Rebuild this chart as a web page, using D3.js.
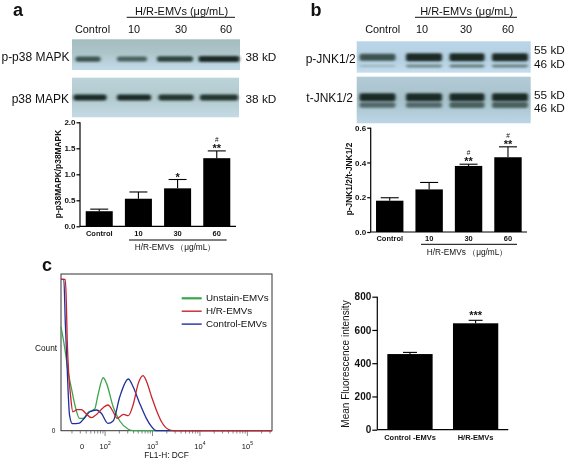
<!DOCTYPE html>
<html><head><meta charset="utf-8">
<script src="https://cdn.jsdelivr.net/npm/d3@7/dist/d3.min.js"></script>
<style>
html,body{margin:0;padding:0;background:#fff}
svg{display:block;filter:blur(.35px)}
text{font-family:"Liberation Sans",Arial,sans-serif;fill:#111}
</style></head><body><svg id="c" width="567" height="460"></svg>
<script>
// ---- data ----
const doseCats = ["Control","10","30","60"];
const p38Values = [0.29,0.53,0.73,1.31];
const p38ErrTops = [0.33,0.66,0.90,1.45];
const p38Ticks = [0,0.5,1.0,1.5,2.0];
const p38Marks = ["","","*","**"];
const p38Hash = ["","","","#"];
const jnkValues = [0.18,0.245,0.38,0.43];
const jnkErrTops = [0.197,0.285,0.39,0.49];
const jnkTicks = [0,0.2,0.4,0.6];
const jnkMarks = ["","","**","**"];
const jnkHash = ["","","#","#"];
const mfiCats = ["Control -EMVs","H/R-EMVs"];
const mfiValues = [455,640];
const mfiErrTops = [465,658];
const mfiTicks = [0,200,400,600,800];
const mfiMarks = ["","***"];
const histLogX_red = [1.07,1.16,1.18,1.20,1.23,1.27,1.32,1.41,1.50,1.59,1.71,1.82,1.96,2.06,2.17,2.25,2.32,2.39,2.49,2.59,2.70,2.80,2.87,2.98,3.08,3.19,3.33,3.44,5.52];
const histY_red = [96.6,96.6,84.5,58.9,37.7,22.8,12.1,13.4,13.4,11.1,8.3,10.4,14.7,16.4,12.1,7.9,9.1,10.4,9.6,16.4,30.2,35.1,31.7,21.7,13.2,5.7,0.9,0,0];
const histLogX_blue = [1.07,1.13,1.16,1.20,1.25,1.31,1.46,1.57,1.68,1.82,1.92,2.06,2.17,2.31,2.49,2.59,2.73,2.87,2.98,3.08,5.52];
const histY_blue = [96.6,96.6,69.6,39.8,10,4.5,4.9,8.3,12.1,13.2,11.1,4.7,6.2,21.7,33,28.1,17.4,7.9,2.6,0,0];
const histLogX_green = [1.07,1.15,1.22,1.29,1.38,1.46,1.54,1.64,1.78,1.85,1.96,2.03,2.17,2.31,2.49,2.59,5.52];
const histY_green = [66.4,52.6,37.7,27,14.3,7.9,7.9,11.7,13.8,22.8,33.8,30.2,15.3,6.2,0.9,0,0];
const legendNames = ["Unstain-EMVs","H/R-EMVs","Control-EMVs"];
const legendColors = ["#3aa64a","#c8232c","#1f2f9c"];
const histDecades = [2,3,4,5];
// relative band densities read from the blots
const pp38Bands = [0.75,0.65,0.85,1.0];
const tp38Bands = [1,1,0.95,0.95];
const pJnkUpper = [0.75,1,1,1];
const pJnkLower = [0.1,0.4,0.5,0.45];
const tJnkUpper = [1,1,1,1];
const tJnkLower = [0.6,0.6,0.65,0.65];

const svg = d3.select("#c");
const defs = svg.append("defs");
defs.append("filter").attr("id","bl").attr("x","-20%").attr("y","-100%").attr("width","140%").attr("height","300%")
  .append("feGaussianBlur").attr("stdDeviation","1.5 1");
function grad(id,stops){
  const g=defs.append("linearGradient").attr("id",id).attr("x1",0).attr("y1",0).attr("x2",0).attr("y2",1);
  stops.forEach(s=>g.append("stop").attr("offset",s[0]).attr("stop-color",s[1]));
}
grad("g1",[[0,"#a3bcbf"],[.45,"#adc5c9"],[1,"#c3dceb"]]);
grad("g2",[[0,"#bcd3da"],[.5,"#b2c9cd"],[1,"#c4dbe6"]]);
grad("g3",[[0,"#b9d5e8"],[.6,"#b3cfe0"],[1,"#c4deef"]]);
grad("g4",[[0,"#b2cbd8"],[.5,"#a7c1ca"],[1,"#bcd6e6"]]);

function txt(x,y,s,size,o={}){
  const t=svg.append("text").attr("x",x).attr("y",y).attr("font-size",size)
    .attr("text-anchor",o.a||"middle").attr("dominant-baseline","central").text(s);
  if(o.b) t.attr("font-weight",700);
  return t;
}
function bands(xs,w,y,vals,thick){
  const col=d3.scaleLinear().domain([0,1]).range(["#a9c3c8","#1a2c27"]);
  svg.append("g").attr("filter","url(#bl)").selectAll("rect").data(vals).join("rect")
    .attr("x",(d,i)=>xs[i]-w[i]/2).attr("width",(d,i)=>w[i])
    .attr("y",d=>y-thick*(.5+.5*d)/2).attr("height",d=>thick*(.5+.5*d))
    .attr("rx",2).attr("fill",d=>col(d));
}
function blot(x,y,w,h,g){svg.append("rect").attr("x",x).attr("y",y).attr("width",w).attr("height",h).attr("fill",`url(#${g})`);}

// ---- panel a blots ----
txt(18,9.5,"a",18,{b:1});
txt(181.5,11,"H/R-EMVs (μg/mL)",11);
svg.append("line").attr("x1",126.7).attr("x2",235).attr("y1",17.3).attr("y2",17.3).attr("stroke","#111").attr("stroke-width",1);
[92.5,134,181,226].forEach((x,i)=>txt(x,29,doseCats[i],10.9));
blot(72,39.3,168,30.7,"g1"); blot(72,77.7,167,39.6,"g2");
bands([88,132,175,219],[25,30,36,41],59,pp38Bands,6);
bands([90,134,176,219],[33,34,35,38],97.5,tp38Bands,6);
txt(69.5,57.3,"p-p38 MAPK",12,{a:"end"}); txt(69,99,"p38 MAPK",12,{a:"end"});
txt(245.5,57,"38 kD",11.8,{a:"start"}); txt(245.5,98.5,"38 kD",11.8,{a:"start"});

// ---- panel b blots ----
txt(316,9.5,"b",18,{b:1});
txt(466.7,11,"H/R-EMVs (μg/mL)",11);
svg.append("line").attr("x1",415).attr("x2",517).attr("y1",17.3).attr("y2",17.3).attr("stroke","#111").attr("stroke-width",1);
[382.7,422,466,508].forEach((x,i)=>txt(x,29,doseCats[i],10.9));
blot(356.7,41.3,174,31.4,"g3"); blot(356.7,76.7,174,46.6,"g4");
const jx=[377.5,424,467,510], jw=[36,36,35,36];
bands(jx,jw,66,pJnkLower,4); bands(jx,jw,57.3,pJnkUpper,8);
bands(jx,jw,105,tJnkLower,7); bands(jx,jw,97.3,tJnkUpper,8);
txt(355.7,59,"p-JNK1/2",12,{a:"end"}); txt(353,98,"t-JNK1/2",12,{a:"end"});
[["55 kD",50],["46 kD",64],["55 kD",95],["46 kD",108]].forEach(d=>txt(534,d[1],d[0],11.8,{a:"start"}));

// ---- bar charts ----
function barChart(o){
  const x=d3.scaleBand().domain(o.cats).range([o.x0,o.x1]).paddingInner(o.pi).paddingOuter(o.po);
  const y=d3.scaleLinear().domain(o.dom).range([o.y0,o.y1]);
  const g=svg.append("g");
  const cx=i=>x(o.cats[i])+x.bandwidth()/2;
  g.selectAll(".e").data(o.vals).join("line").attr("x1",(d,i)=>cx(i)).attr("x2",(d,i)=>cx(i))
    .attr("y1",d=>y(d)).attr("y2",(d,i)=>y(o.tops[i])).attr("stroke","#000").attr("stroke-width",1.1);
  g.selectAll(".c").data(o.tops).join("line")
    .attr("x1",(d,i)=>cx(i)-o.cap).attr("x2",(d,i)=>cx(i)+o.cap)
    .attr("y1",d=>y(d)).attr("y2",d=>y(d)).attr("stroke","#000").attr("stroke-width",1.1);
  g.selectAll(".r").data(o.vals).join("rect").attr("x",(d,i)=>x(o.cats[i])).attr("width",x.bandwidth())
    .attr("y",d=>y(d)).attr("height",d=>o.y0-y(d)).attr("fill","#000");
  const ya=g.append("g").attr("transform",`translate(${o.x0},0)`).call(d3.axisLeft(y).tickValues(o.ticks).tickSize(o.tl).tickPadding(1).tickFormat(o.fmt));
  const xa=g.append("g").attr("transform",`translate(0,${o.y0})`).call(d3.axisBottom(x).tickSize(0).tickPadding(o.xpad));
  ya.select(".domain").attr("d",`M0,${o.y0}V${o.y1}`);
  xa.select(".domain").attr("d",`M${o.x0},0H${o.x1}`);
  [[ya,o.yfs],[xa,o.xfs]].forEach(([a,fs])=>{
    a.selectAll("path,line").attr("stroke","#000").attr("stroke-width",1.2);
    a.selectAll("text").attr("font-weight",700).attr("font-size",fs).style("font-family",'"Liberation Sans",Arial,sans-serif').style("fill","#111");
  });
  g.append("text").attr("font-size",o.tfs||8).attr("text-anchor","middle").attr("dominant-baseline","central")
    .attr("font-weight",o.tw||700).attr("transform",`translate(${o.tx},${o.ty}) rotate(-90)`).text(o.title);
  (o.marks||[]).forEach((m,i)=>{ if(!m) return;
    const ty=y(o.tops[i]);
    txt(cx(i),ty-o.mOff,m,o.mfs,{b:1});
    if(o.hash&&o.hash[i]) txt(cx(i),ty-o.mOff-8.5,o.hash[i],6.5);
  });
}
barChart({cats:doseCats,vals:p38Values,tops:p38ErrTops,ticks:p38Ticks,dom:[0,2],x0:80,x1:236,y0:226.3,y1:122.3,pi:.31,po:.146,cap:9,tl:3.5,xpad:4,
  fmt:d3.format(".1f"),yfs:8,xfs:7.5,title:"p-p38MAPK/p38MAPK",tfs:8.4,tx:58,ty:174,marks:p38Marks,hash:p38Hash,mOff:3,mfs:11});
barChart({cats:doseCats,vals:jnkValues,tops:jnkErrTops,ticks:jnkTicks,dom:[0,.6],x0:370.7,x1:527,y0:232,y1:127.7,pi:.305,po:.135,cap:9,tl:3.5,xpad:4,
  fmt:d3.format(".1f"),yfs:8,xfs:7.5,title:"p-JNK1/2/t-JNK1/2",tfs:8.4,tx:349,ty:179,marks:jnkMarks,hash:jnkHash,mOff:3,mfs:11});
barChart({cats:mfiCats,vals:mfiValues,tops:mfiErrTops,ticks:mfiTicks,dom:[0,800],x0:377.3,x1:508.3,y0:429.7,y1:296.7,pi:.31,po:.153,cap:7,tl:5,xpad:5,
  fmt:d3.format("d"),yfs:10,xfs:7.5,title:"Mean Fluorescence intensity",tx:345.5,ty:364,tfs:10,tw:400,marks:mfiMarks,mOff:5,mfs:11});
// captions under dose bars
[[129,226.7,240,175,246.7],[421,517,244.3,467,251.7]].forEach(d=>{
  svg.append("line").attr("x1",d[0]).attr("x2",d[1]).attr("y1",d[2]).attr("y2",d[2]).attr("stroke","#000").attr("stroke-width",1);
  txt(d[3],d[4],"H/R-EMVs （μg/mL）",8.3);
});

// ---- histogram ----
txt(47,265,"c",18,{b:1});
const hx=d3.scaleLinear().domain([1.07,5.52]).range([61,272]);
const hy=d3.scaleLinear().domain([0,100]).range([430.7,274]);
svg.append("rect").attr("x",61).attr("y",274).attr("width",211).attr("height",156.7).attr("fill","none").attr("stroke","#333").attr("stroke-width",1);
const ln=d3.line().x(d=>hx(d[0])).y(d=>hy(d[1])).curve(d3.curveMonotoneX);
[[histLogX_green,histY_green,0],[histLogX_blue,histY_blue,2],[histLogX_red,histY_red,1]].forEach(s=>{
  svg.append("path").attr("d",ln(d3.zip(s[0],s[1]))).attr("fill","none").attr("stroke",legendColors[s[2]]).attr("stroke-width",1.3);
});
const minor=[]; [1,2,3,4,5].forEach(k=>d3.range(1,10).forEach(m=>{const v=k+Math.log10(m); if(v>=1.1&&v<=5.52) minor.push(v);}));
svg.append("g").selectAll("line").data(minor).join("line").attr("x1",hx).attr("x2",hx).attr("y1",431).attr("y2",d=>Number.isInteger(d)?436:433.5).attr("stroke","#555").attr("stroke-width",.7);
txt(82,446,"0",7.5);
histDecades.forEach(k=>{
  const t=svg.append("text").attr("x",hx(k)).attr("y",446).attr("font-size",7.5).attr("text-anchor","middle").attr("dominant-baseline","central");
  t.append("tspan").text("10");
  t.append("tspan").attr("dy",-3).attr("font-size",5).text(k);
});
txt(166.5,455,"FL1-H: DCF",8.3);
txt(46,347.5,"Count",8.3);
txt(53.5,430,"0",6.5);
legendNames.forEach((n,i)=>{
  const ly=298.3+i*12.9;
  svg.append("line").attr("x1",181.7).attr("x2",201.7).attr("y1",ly).attr("y2",ly).attr("stroke",legendColors[i]).attr("stroke-width",i==0?2.2:1.4);
  txt(206,ly-.5,n,9.8,{a:"start"});
});
</script></body></html>
